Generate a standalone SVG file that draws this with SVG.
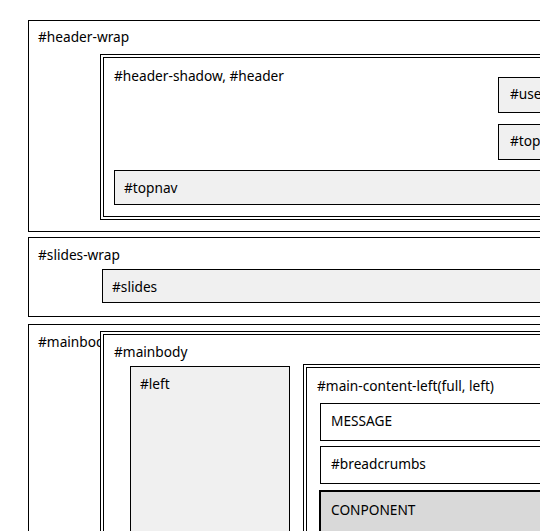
<svg xmlns="http://www.w3.org/2000/svg" width="540" height="531" viewBox="0 0 540 531">
<style>
.box{fill:#fff;stroke:#000;stroke-width:1}
.grey{fill:#f0f0f0;stroke:#000;stroke-width:1}
.comp{fill:#d9d9d9;stroke:#000;stroke-width:2}
text{font-family:"Noto Sans","Open Sans","DejaVu Sans",sans-serif;font-size:13.7px;fill:#000}
</style>
<rect width="540" height="531" fill="#fff"/>
<g id="header-wrap">
<rect class="box" x="28.5" y="20.5" width="540" height="211"/>
<text x="38" y="42">#header-wrap</text>
</g>
<g id="header">
<rect class="box" x="100.5" y="54.5" width="460" height="165"/>
<rect class="box" x="103.5" y="57.5" width="460" height="159"/>
<text x="114" y="81">#header-shadow, #header</text>
</g>
<g id="user">
<rect class="grey" x="498.5" y="77.5" width="60" height="35"/>
<text x="510" y="98.5">#user</text>
</g>
<g id="topn">
<rect class="grey" x="498.5" y="124.5" width="60" height="35"/>
<text x="510" y="145.5">#topnav</text>
</g>
<g id="topnav">
<rect class="grey" x="114.5" y="170.5" width="450" height="34"/>
<text x="124" y="193">#topnav</text>
</g>
<g id="slides-wrap">
<rect class="box" x="28.5" y="237.5" width="540" height="79"/>
<text x="38" y="260">#slides-wrap</text>
</g>
<g id="slides">
<rect class="grey" x="102.5" y="269.5" width="460" height="33"/>
<text x="112" y="292">#slides</text>
</g>
<g id="mainbody-wrap">
<rect class="box" x="28.5" y="324.5" width="540" height="230"/>
<text x="38" y="347">#mainbody</text>
</g>
<g id="mainbody">
<rect class="box" x="100.5" y="331.5" width="460" height="230"/>
<rect class="box" x="103.5" y="334.5" width="460" height="230"/>
<text x="114" y="357">#mainbody</text>
</g>
<g id="left">
<rect class="grey" x="130.5" y="366.5" width="159" height="200"/>
<text x="140" y="388.5">#left</text>
</g>
<g id="main-content-left">
<rect class="box" x="303.5" y="364.5" width="260" height="200"/>
<rect class="box" x="306.5" y="367.5" width="260" height="200"/>
<text x="317" y="391">#main-content-left(full, left)</text>
</g>
<g id="message">
<rect class="box" x="320.5" y="403.5" width="240" height="37"/>
<text x="331" y="425.5">MESSAGE</text>
</g>
<g id="breadcrumbs">
<rect class="box" x="320.5" y="446.5" width="240" height="37"/>
<text x="331" y="468.5">#breadcrumbs</text>
</g>
<g id="component">
<rect class="comp" x="320" y="491" width="240" height="60"/>
<text x="331" y="515">CONPONENT</text>
</g>
<g id="connectors"/>
</svg>
